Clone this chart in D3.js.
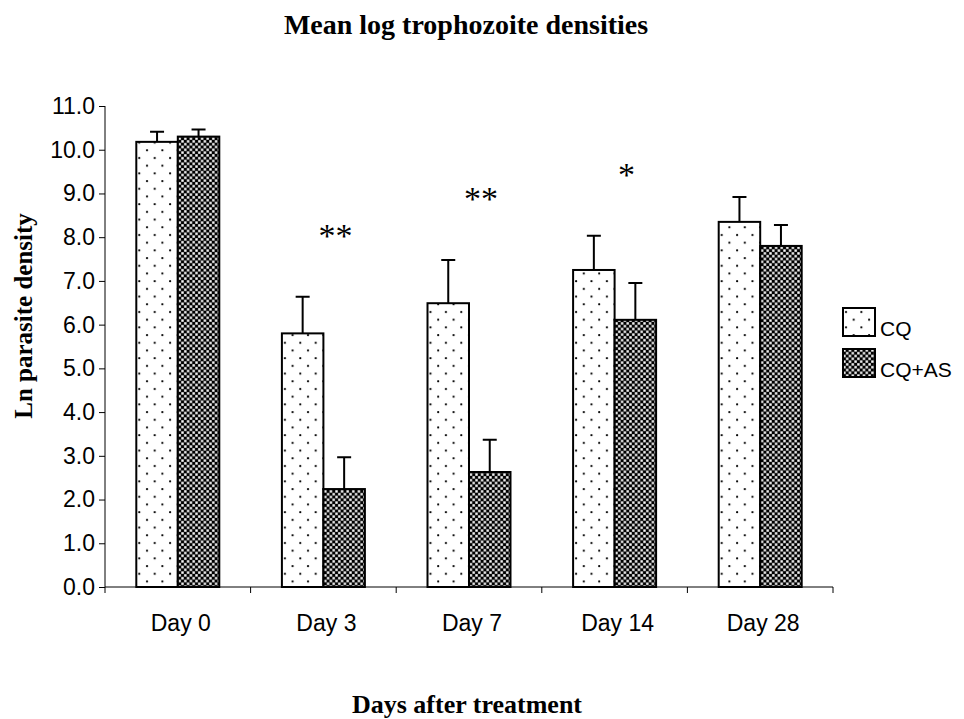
<!DOCTYPE html>
<html>
<head>
<meta charset="utf-8">
<script src="https://cdn.jsdelivr.net/npm/d3@7"></script>
<style>
  body { margin: 0; background: #fff; }
  svg { display: block; }
</style>
</head>
<body>
<div id="chart"></div>
<script>
// chart values
let days = ["Day 0", "Day 3", "Day 7", "Day 14", "Day 28"];
let seriesNames = ["CQ", "CQ+AS"];
let cqMean = [10.18, 5.80, 6.49, 7.25, 8.35];
let cqErr = [0.23, 0.84, 0.99, 0.78, 0.57];
let cqasMean = [10.30, 2.24, 2.63, 6.11, 7.80];
let cqasErr = [0.16, 0.73, 0.74, 0.84, 0.48];
let signif = ["", "**", "**", "*", ""];
let yTicks = [0, 1, 2, 3, 4, 5, 6, 7, 8, 9, 10, 11];

let width = 964, height = 719;
let margin = {top: 106, right: 131, bottom: 132, left: 105};

let svg = d3.select("#chart")
    .append("svg")
    .attr("width", width)
    .attr("height", height);

// fill patterns: sparse dots for CQ, fine checker for CQ+AS
let defs = svg.append("defs");
let dots = defs.append("pattern")
    .attr("id", "dots")
    .attr("patternUnits", "userSpaceOnUse")
    .attr("width", 15.4).attr("height", 15.4);
dots.append("rect").attr("width", 15.4).attr("height", 15.4).attr("fill", "#fff");
dots.append("circle").attr("cx", 3).attr("cy", 4).attr("r", 1.1).attr("fill", "#000");
dots.append("circle").attr("cx", 10.7).attr("cy", 11.7).attr("r", 1.1).attr("fill", "#000");

let checks = defs.append("pattern")
    .attr("id", "checks")
    .attr("patternUnits", "userSpaceOnUse")
    .attr("width", 5.6).attr("height", 5.6);
checks.append("rect").attr("width", 5.6).attr("height", 5.6).attr("fill", "#000");
checks.append("rect").attr("x", 0.2).attr("y", 0.2).attr("width", 2.4).attr("height", 2.4).attr("fill", "#fff");
checks.append("rect").attr("x", 3.0).attr("y", 3.0).attr("width", 2.4).attr("height", 2.4).attr("fill", "#fff");

let fills = {"CQ": "url(#dots)", "CQ+AS": "url(#checks)"};

let data = days.map((d, i) => ({
    day: d,
    sig: signif[i],
    values: [
        {name: "CQ", mean: cqMean[i], err: cqErr[i]},
        {name: "CQ+AS", mean: cqasMean[i], err: cqasErr[i]}
    ]
}));

let x = d3.scaleBand()
    .domain(days)
    .range([margin.left, width - margin.right])
    .paddingInner(0.43)
    .paddingOuter(0.215);

let xInner = d3.scaleBand()
    .domain(seriesNames)
    .range([0, x.bandwidth()]);

let y = d3.scaleLinear()
    .domain([0, 11])
    .range([height - margin.bottom, margin.top]);

// y axis
let yAxis = svg.append("g")
    .attr("transform", "translate(" + margin.left + ",0)")
    .call(d3.axisLeft(y).tickValues(yTicks).tickFormat(d3.format(".1f")).tickSize(6).tickPadding(4));
yAxis.select(".domain").attr("d", "M0," + y(11) + "V" + y(0)).attr("stroke", "#000");
yAxis.selectAll("text")
    .style("font-family", "'Liberation Sans', Arial, sans-serif")
    .style("font-size", "23px")
    .attr("fill", "#000");

// x axis: line with ticks at category boundaries
let xg = svg.append("g");
xg.append("line")
    .attr("x1", x.range()[0]).attr("x2", x.range()[1])
    .attr("y1", y(0)).attr("y2", y(0))
    .attr("stroke", "#000");
let bounds = days.map(d => x(d) - x.step() * x.paddingOuter()).concat([x.range()[1]]);
xg.selectAll(".btick")
    .data(bounds)
    .join("line")
    .attr("class", "btick")
    .attr("x1", d => d).attr("x2", d => d)
    .attr("y1", y(0)).attr("y2", y(0) + 6)
    .attr("stroke", "#000");
xg.selectAll(".xlab")
    .data(days)
    .join("text")
    .attr("class", "xlab")
    .attr("x", d => x(d) + x.bandwidth() / 2 + 3)
    .attr("y", 631)
    .attr("text-anchor", "middle")
    .style("font-family", "'Liberation Sans', Arial, sans-serif")
    .style("font-size", "23px")
    .text(d => d);

// bars
let groups = svg.selectAll(".grp")
    .data(data)
    .join("g")
    .attr("class", "grp")
    .attr("transform", d => "translate(" + x(d.day) + ",0)");

groups.selectAll(".err")
    .data(d => d.values)
    .join("path")
    .attr("class", "err")
    .attr("fill", "none")
    .attr("stroke", "#000")
    .attr("stroke-width", 2)
    .attr("d", d => {
        let cx = xInner(d.name) + xInner.bandwidth() / 2;
        return "M" + cx + "," + y(d.mean) + "V" + y(d.mean + d.err) +
            "M" + (cx - 7) + "," + y(d.mean + d.err) + "H" + (cx + 7);
    });

groups.selectAll(".bar")
    .data(d => d.values)
    .join("rect")
    .attr("class", "bar")
    .attr("x", d => xInner(d.name))
    .attr("width", xInner.bandwidth())
    .attr("y", d => y(d.mean))
    .attr("height", d => y(0) - y(d.mean))
    .attr("fill", d => fills[d.name])
    .attr("stroke", "#000")
    .attr("stroke-width", 2);

// significance marks
groups.append("text")
    .attr("x", x.bandwidth() / 2 + 12)
    .attr("y", d => y(d3.max(d.values, v => v.mean + v.err)) - 68 + 18)
    .attr("text-anchor", "middle")
    .style("font-family", "'Liberation Serif', 'Times New Roman', serif")
    .style("font-size", "34px")
    .text(d => d.sig);

// legend
let legend = svg.append("g").attr("transform", "translate(843,308)");
let li = legend.selectAll(".li")
    .data(seriesNames)
    .join("g")
    .attr("class", "li")
    .attr("transform", (d, i) => "translate(0," + (i * 41) + ")");
li.append("rect")
    .attr("width", 32).attr("height", 28)
    .attr("fill", d => fills[d])
    .attr("stroke", "#000")
    .attr("stroke-width", 2);
li.append("text")
    .attr("x", 37).attr("y", 28)
    .style("font-family", "'Liberation Sans', Arial, sans-serif")
    .style("font-size", "21px")
    .text(d => d);

// titles
svg.append("text")
    .attr("x", 466).attr("y", 34)
    .attr("text-anchor", "middle")
    .style("font-family", "'Liberation Serif', 'Times New Roman', serif")
    .style("font-weight", "bold")
    .style("font-size", "28px")
    .text("Mean log trophozoite densities");

svg.append("text")
    .attr("transform", "translate(32,316) rotate(-90)")
    .attr("text-anchor", "middle")
    .style("font-family", "'Liberation Serif', 'Times New Roman', serif")
    .style("font-weight", "bold")
    .style("font-size", "25px")
    .text("Ln parasite density");

svg.append("text")
    .attr("x", 467).attr("y", 713)
    .attr("text-anchor", "middle")
    .style("font-family", "'Liberation Serif', 'Times New Roman', serif")
    .style("font-weight", "bold")
    .style("font-size", "26px")
    .text("Days after treatment");
</script>
</body>
</html>
